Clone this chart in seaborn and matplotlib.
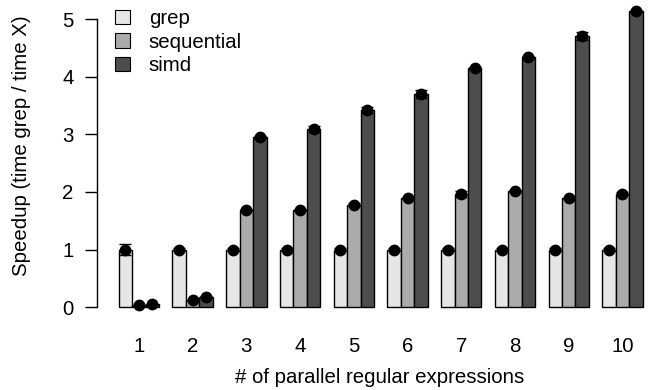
import matplotlib
matplotlib.use("Agg")
import matplotlib.pyplot as plt
import seaborn as sns
import pandas as pd
import numpy as np

# Number of parallel regular expressions
n_regex = ["1", "2", "3", "4", "5", "6", "7", "8", "9", "10"]
methods = ["grep", "sequential", "simd"]

# Mean speedup relative to grep
grep_speedup = [1.0, 1.0, 1.0, 1.0, 1.0, 1.0, 1.0, 1.0, 1.0, 1.0]
sequential_speedup = [0.03, 0.12, 1.69, 1.69, 1.78, 1.89, 1.96, 2.02, 1.89, 1.97]
simd_speedup = [0.05, 0.18, 2.95, 3.10, 3.42, 3.70, 4.15, 4.34, 4.72, 5.15]

# Error bar half-widths
grep_err = [0.1, 0.02, 0.02, 0.02, 0.02, 0.02, 0.02, 0.02, 0.02, 0.02]
sequential_err = [0.01, 0.01, 0.02, 0.02, 0.02, 0.02, 0.05, 0.02, 0.02, 0.03]
simd_err = [0.01, 0.01, 0.02, 0.05, 0.05, 0.07, 0.03, 0.02, 0.07, 0.02]

colors = ["#e6e6e6", "#ababab", "#4d4d4d"]

df = pd.DataFrame({
    "n": n_regex * 3,
    "method": [m for m in methods for _ in n_regex],
    "speedup": grep_speedup + sequential_speedup + simd_speedup,
})
errs = [grep_err, sequential_err, simd_err]
vals = [grep_speedup, sequential_speedup, simd_speedup]

sns.set_style("white")
plt.rcParams["font.family"] = ["Liberation Sans", "DejaVu Sans"]
plt.rcParams.update({"text.color": "black", "axes.labelcolor": "black",
                     "xtick.color": "black", "ytick.color": "black"})
FS = 14.7

fig = plt.figure(figsize=(6.49, 3.90), dpi=100)
ax = fig.add_axes([97 / 649, 0.1833, 548 / 649, 0.811])

sns.barplot(data=df, x="n", y="speedup", hue="method", hue_order=methods,
            order=n_regex, palette=colors, edgecolor="black", linewidth=1.0,
            width=0.75, errorbar=None, saturation=1, ax=ax)

# Mean markers with error bars at bar tops
for cont, v, e in zip(ax.containers, vals, errs):
    xs = [p.get_x() + p.get_width() / 2 for p in cont.patches]
    ax.errorbar(xs, v, yerr=e, fmt="o", color="black", markersize=7.5,
                capsize=4, elinewidth=1, capthick=1, zorder=5)

ax.set_ylim(-0.2, 5.3)
ax.set_xlim(-0.78, 9.42)
ax.set_yticks([0, 1, 2, 3, 4, 5])
ax.tick_params(axis="y", length=9, width=1, labelsize=FS, direction="out", left=True, pad=8)
ax.tick_params(axis="x", length=0, labelsize=FS, pad=13)

for s in ["top", "right", "bottom"]:
    ax.spines[s].set_visible(False)
ax.spines["left"].set_bounds(0, 5)
ax.spines["left"].set_linewidth(1)
ax.spines["left"].set_color("black")

ax.set_xlabel("# of parallel regular expressions", fontsize=FS, labelpad=10)
ax.set_ylabel("Speedup (time grep / time X)", fontsize=FS)
ax.xaxis.set_label_coords(0.515, -0.155)
ax.yaxis.set_label_coords(-0.12, 0.545)

leg = ax.legend(loc="upper left", bbox_to_anchor=(106 / 649, 1.0), bbox_transform=fig.transFigure,
                frameon=False, fontsize=FS, handlelength=0.75, handleheight=0.7,
                handletextpad=0.9, labelspacing=0.22, borderaxespad=0.05)
for h in leg.legend_handles:
    h.set_edgecolor("black")
    h.set_linewidth(0.8)

fig.savefig("out.png", dpi=100)
